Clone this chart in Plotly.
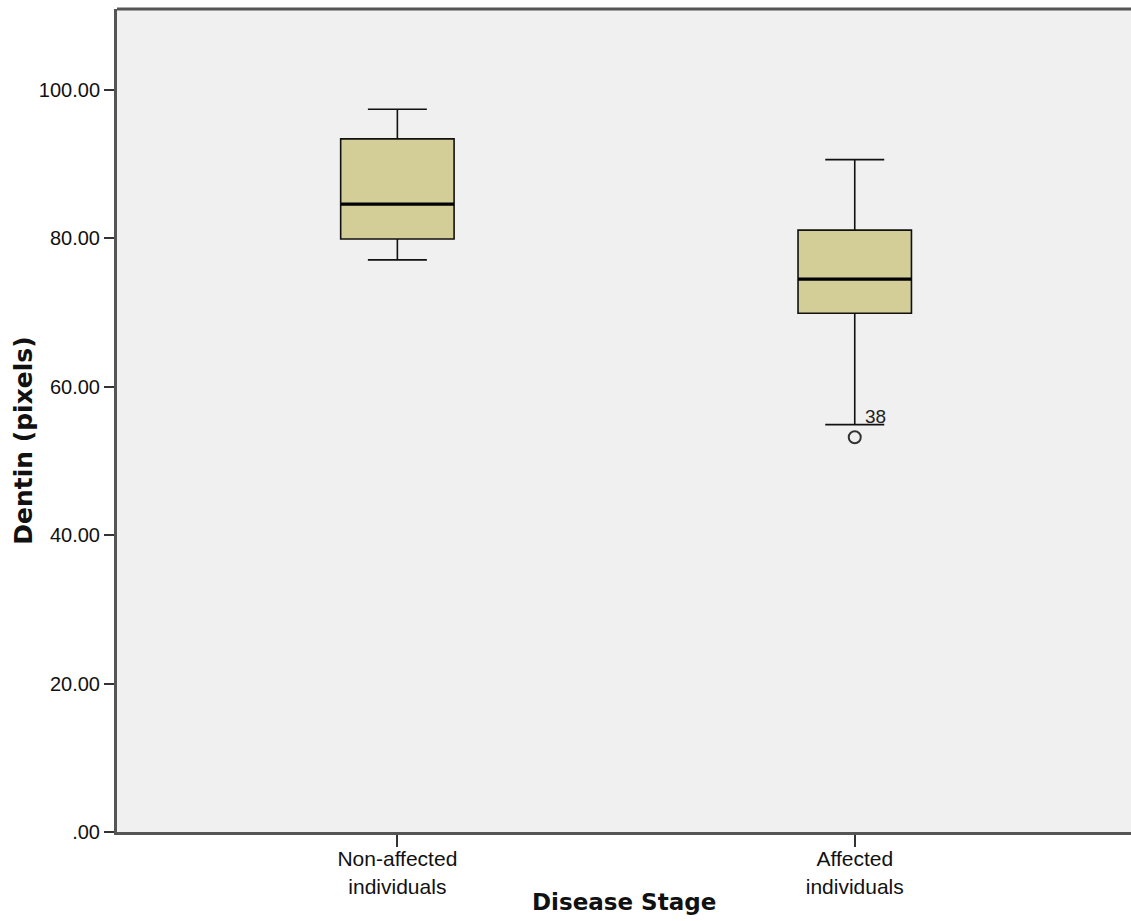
import plotly.graph_objects as go

# Group summaries for the dentin measurements
groups = ["Non-affected<br>individuals", "Affected<br>individuals"]
lower_whisker = [77.1, 54.9]
q1 = [79.9, 69.9]
median = [84.6, 74.5]
q3 = [93.4, 81.1]
upper_whisker = [97.4, 90.6]

# Outlying cases (group index, value, case id)
outlier_group = [1]
outlier_value = [53.2]
outlier_case = ["38"]

y_ticks = [0, 20, 40, 60, 80, 100]
y_tick_text = [".00", "20.00", "40.00", "60.00", "80.00", "100.00"]

pos = list(range(len(groups)))
box_fill = "#d3ce97"
box_half = 0.124

fig = go.Figure()
fig.add_trace(go.Box(
    x=pos, q1=q1, median=median, q3=q3,
    lowerfence=lower_whisker, upperfence=upper_whisker,
    width=2 * box_half, whiskerwidth=0.52,
    fillcolor=box_fill, line=dict(color="#111111", width=1.6),
    boxpoints=False, showlegend=False, hoverinfo="skip",
))

# Heavier median bars
for i, m in zip(pos, median):
    fig.add_trace(go.Scatter(
        x=[i - box_half, i + box_half], y=[m, m], mode="lines",
        line=dict(color="#000000", width=3.2), showlegend=False, hoverinfo="skip",
    ))

fig.add_trace(go.Scatter(
    x=outlier_group, y=outlier_value, mode="markers",
    marker=dict(symbol="circle-open", size=12, color="#333333", line=dict(width=2)),
    showlegend=False, hoverinfo="skip",
))
for g, v, c in zip(outlier_group, outlier_value, outlier_case):
    fig.add_annotation(x=g, y=v, text=c, showarrow=False, xanchor="left", yanchor="bottom",
                       xshift=8, yshift=8, font=dict(family="Liberation Sans, Arial", size=19, color="#222222"))

fig.update_xaxes(
    range=[-0.613, 1.604], tickvals=pos, ticktext=groups,
    ticks="outside", ticklen=12, tickwidth=2, tickcolor="#333333",
    ticklabelstandoff=-6,
    showline=True, linecolor="#555555", linewidth=3, mirror=False,
    showgrid=False, zeroline=False,
    tickfont=dict(family="Liberation Sans, Arial", size=21, color="#111111"),
)
fig.update_yaxes(
    range=[0, 110.9], tickvals=y_ticks, ticktext=y_tick_text,
    ticks="outside", ticklen=10, tickwidth=2, tickcolor="#333333",
    showline=True, linecolor="#555555", linewidth=3, mirror=False,
    showgrid=False, zeroline=False,
    tickfont=dict(family="Liberation Sans, Arial", size=20, color="#111111"),
)

# Top frame line
fig.add_shape(type="line", xref="paper", yref="paper", x0=0, x1=1, y0=1, y1=1,
              line=dict(color="#555555", width=3))

fig.add_annotation(xref="paper", yref="paper", x=0.5, y=-0.085, text="<b>Disease Stage</b>",
                   showarrow=False, xanchor="center", yanchor="middle",
                   font=dict(family="DejaVu Sans", size=23, color="#111111"))
fig.add_annotation(xref="paper", yref="paper", x=-0.093, y=0.475, text="<b>Dentin (pixels)</b>",
                   showarrow=False, textangle=-90, xanchor="center", yanchor="middle",
                   font=dict(family="DejaVu Sans", size=25, color="#111111"))

fig.update_layout(
    width=1131, height=921,
    margin=dict(l=117, r=0, t=9, b=89),
    plot_bgcolor="#f0f0f0", paper_bgcolor="#ffffff",
)

fig.write_html("out.html")
